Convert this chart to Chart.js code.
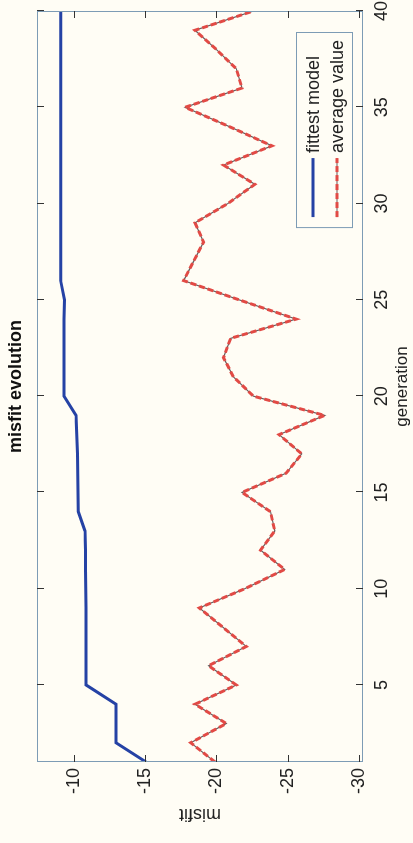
<!DOCTYPE html>
<html lang="en">
<head>
    <meta charset="UTF-8">
    <title>misfit evolution</title>
    <script src="https://cdn.jsdelivr.net/npm/chart.js"></script>
    <style>
        html, body { margin: 0; padding: 0; background: #fffdf5; overflow: hidden; }
        /* the figure is drawn landscape and turned a quarter turn to the left */
        #wrap {
            position: absolute; left: 0; top: 0;
            width: 843px; height: 413px;
            transform-origin: 0 0;
            transform: translateY(843px) rotate(-90deg);
        }
    </style>
</head>
<body>
    <div id="wrap">
        <canvas id="myChart" width="843" height="413"></canvas>
    </div>
    <script>
        const generations = [1, 2, 3, 4, 5, 6, 7, 8, 9, 10,
            11, 12, 13, 14, 15, 16, 17, 18, 19, 20,
            21, 22, 23, 24, 25, 26, 27, 28, 29, 30,
            31, 32, 33, 34, 35, 36, 37, 38, 39, 40];
        const fittest = [-15.05, -12.95, -12.95, -12.95, -10.85, -10.85, -10.85, -10.85, -10.85, -10.82,
            -10.8, -10.8, -10.77, -10.3, -10.28, -10.26, -10.24, -10.2, -10.14, -9.3,
            -9.3, -9.3, -9.3, -9.3, -9.33, -9.06, -9.06, -9.06, -9.06, -9.06,
            -9.06, -9.06, -9.06, -9.06, -9.06, -9.06, -9.06, -9.06, -9.06, -9.06];
        const average = [-19.9, -18.2, -20.7, -18.5, -21.4, -19.45, -22.1, -20.45, -18.8, -22.0,
            -24.8, -23.1, -24.1, -23.8, -21.8, -24.9, -26.0, -24.4, -27.6, -22.6,
            -21.2, -20.5, -21.0, -25.6, -21.6, -17.7, -18.4, -19.1, -18.5, -20.8,
            -22.7, -20.5, -23.9, -20.9, -17.8, -21.8, -21.4, -20.0, -18.5, -22.6];
        const genTicks = [5, 10, 15, 20, 25, 30, 35, 40];
        const misfitTicks = [-30, -25, -20, -15, -10];

        const boxColor = '#7d9cb5';
        const fontFamily = "'Liberation Sans', Arial, sans-serif";

        Chart.defaults.font.family = fontFamily;
        Chart.defaults.color = '#222';

        // MATLAB style: closed box, ticks pointing inwards on all four sides
        const axesBox = {
            id: 'axesBox',
            afterDatasetsDraw(chart) {
                const {ctx, chartArea: a, scales: {x, y}} = chart;
                ctx.save();
                ctx.strokeStyle = boxColor;
                ctx.lineWidth = 1;
                ctx.strokeRect(a.left + 0.5, a.top + 0.5, a.width - 1, a.height - 1);
                ctx.strokeStyle = '#333';
                ctx.beginPath();
                genTicks.forEach(v => {
                    const px = Math.round(x.getPixelForValue(v)) + 0.5;
                    ctx.moveTo(px, a.bottom); ctx.lineTo(px, a.bottom - 7);
                    ctx.moveTo(px, a.top); ctx.lineTo(px, a.top + 7);
                });
                misfitTicks.forEach(v => {
                    const py = Math.round(y.getPixelForValue(v)) + 0.5;
                    ctx.moveTo(a.left, py); ctx.lineTo(a.left + 7, py);
                    ctx.moveTo(a.right, py); ctx.lineTo(a.right - 7, py);
                });
                ctx.stroke();
                ctx.restore();
            }
        };

        // boxed legend in the lower right corner of the axes
        const boxLegend = {
            id: 'boxLegend',
            afterDraw(chart) {
                const {ctx, chartArea: a} = chart;
                const items = chart.data.datasets.filter(d => d.label);
                ctx.save();
                ctx.font = '18px ' + fontFamily;
                const textW = Math.max(...items.map(d => ctx.measureText(d.label).width));
                const w = 11 + 59 + 5 + textW + 7, h = 56;
                const right = a.right - 22, bottom = a.bottom - 11;
                const left = right - w, top = bottom - h;
                ctx.fillStyle = '#fffdf5';
                ctx.fillRect(left, top, w, h);
                ctx.strokeStyle = boxColor;
                ctx.lineWidth = 1;
                ctx.strokeRect(left + 0.5, top + 0.5, w, h);
                items.forEach((d, i) => {
                    const cy = top + 17 + i * 24;
                    if (d.shadow) {
                        ctx.strokeStyle = d.shadow;
                        ctx.lineWidth = 1.2;
                        ctx.setLineDash([]);
                        ctx.beginPath(); ctx.moveTo(left + 11, cy); ctx.lineTo(left + 70, cy); ctx.stroke();
                    }
                    ctx.strokeStyle = d.borderColor;
                    ctx.lineWidth = d.borderWidth;
                    ctx.setLineDash(d.borderDash || []);
                    ctx.beginPath(); ctx.moveTo(left + 11, cy); ctx.lineTo(left + 70, cy); ctx.stroke();
                    ctx.setLineDash([]);
                    ctx.fillStyle = '#222';
                    ctx.textBaseline = 'middle';
                    ctx.fillText(d.label, left + 75, cy + 1);
                });
                ctx.restore();
            }
        };

        const ctx = document.getElementById('myChart').getContext('2d');
        new Chart(ctx, {
            type: 'line',
            data: {
                labels: generations,
                datasets: [{
                    label: 'fittest model',
                    data: fittest,
                    borderColor: '#2542a5',
                    borderWidth: 3,
                    pointRadius: 0,
                    tension: 0
                }, {
                    label: 'average value',
                    data: average,
                    borderColor: '#e24a45',
                    borderWidth: 3,
                    borderDash: [6, 3],
                    shadow: '#6b5a5a',
                    pointRadius: 0,
                    tension: 0
                }, {
                    // thin dark trace seen in the gaps of the dashes
                    data: average,
                    borderColor: '#6b5a5a',
                    borderWidth: 1.2,
                    pointRadius: 0,
                    tension: 0
                }]
            },
            options: {
                responsive: false,
                animation: false,
                devicePixelRatio: 1,
                layout: { padding: { left: 0, right: 11, top: 0, bottom: 0 } },
                plugins: {
                    legend: { display: false },
                    tooltip: { enabled: false },
                    title: {
                        display: true,
                        text: 'misfit evolution',
                        fullSize: false,
                        color: '#111',
                        font: { size: 18, weight: 'bold' },
                        padding: { top: 5, bottom: 10.4 }
                    }
                },
                scales: {
                    x: {
                        type: 'linear',
                        min: 1,
                        max: 40,
                        afterBuildTicks: s => { s.ticks = genTicks.map(v => ({ value: v })); },
                        afterFit: s => { s.height = 50; s.paddingLeft = 0; s.paddingRight = 0; },
                        ticks: { font: { size: 18 }, padding: 8, maxRotation: 0, autoSkip: false },
                        grid: { display: false, drawTicks: false },
                        border: { display: false },
                        title: { display: true, text: 'generation', font: { size: 17, lineHeight: 1 }, padding: { top: 0, bottom: 2.5 } }
                    },
                    y: {
                        type: 'linear',
                        min: -30.3,
                        max: -7.4,
                        afterBuildTicks: s => { s.ticks = misfitTicks.map(v => ({ value: v })); },
                        afterFit: s => { s.width = 81; s.paddingTop = 0; s.paddingBottom = 0; },
                        ticks: { font: { size: 18 }, padding: 6 },
                        grid: { display: false, drawTicks: false },
                        border: { display: false },
                        title: { display: true, text: 'misfit', font: { size: 18, lineHeight: 1 }, padding: { top: 20, bottom: 0 } }
                    }
                }
            },
            plugins: [axesBox, boxLegend]
        });
    </script>
</body>
</html>
